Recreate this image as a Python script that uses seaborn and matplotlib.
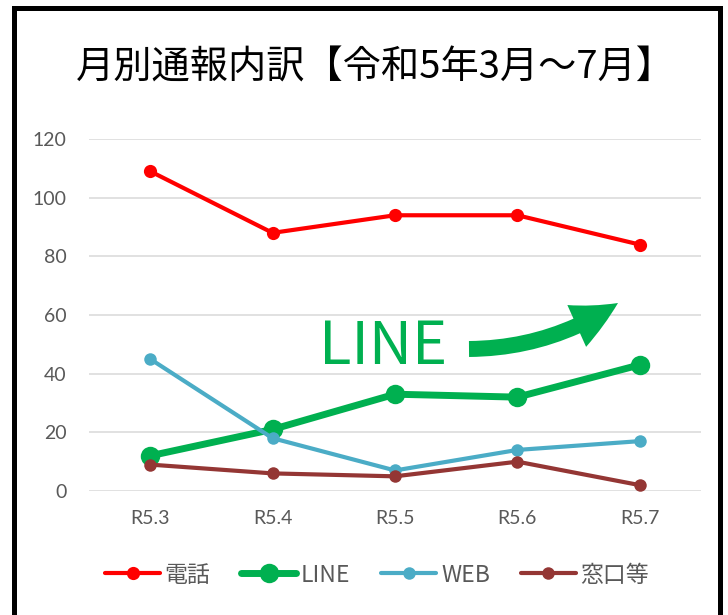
import matplotlib
matplotlib.use("Agg")
import matplotlib.pyplot as plt
from matplotlib.patches import FancyArrowPatch, Rectangle
import pandas as pd
import seaborn as sns

# ── data ──────────────────────────────────────────────────────────────────────
months = ["R5.3", "R5.4", "R5.5", "R5.6", "R5.7"]
phone = [109, 88, 94, 94, 84]
line_app = [12, 21, 33, 32, 43]
web = [45, 18, 7, 14, 17]
counter = [9, 6, 5, 10, 2]

series_names = ["電話", "LINE", "WEB", "窓口等"]
series_values = [phone, line_app, web, counter]
y_ticks = [0, 20, 40, 60, 80, 100, 120]

TITLE = "月別通報内訳【令和5年3月～7月】"

# ── style ─────────────────────────────────────────────────────────────────────
sns.set_style("white")
plt.rcParams["font.family"] = ["Lato", "Noto Sans CJK JP", "DejaVu Sans"]
JP = ["Noto Sans CJK JP", "DejaVu Sans"]
GRAY = "#595959"

styles = {
    "電話": dict(color="#FF0000", lw=3.0, ms=9.5),
    "LINE": dict(color="#00B050", lw=5.0, ms=14),
    "WEB": dict(color="#4BACC6", lw=3.0, ms=9),
    "窓口等": dict(color="#943634", lw=3.0, ms=9),
}

df = pd.DataFrame(
    [
        {"month": m, "series": name, "count": v}
        for name, vals in zip(series_names, series_values)
        for m, v in zip(months, vals)
    ]
)

W, H = 728, 615
fig = plt.figure(figsize=(W / 100, H / 100), dpi=100)
ax = fig.add_axes([89 / W, 1 - 491 / H, (701 - 89) / W, (491 - 139) / H])

for name in series_names:
    st = styles[name]
    sns.lineplot(
        data=df[df["series"] == name],
        x="month",
        y="count",
        color=st["color"],
        linewidth=st["lw"],
        marker="o",
        markersize=st["ms"],
        markeredgewidth=0,
        label=name,
        ax=ax,
        zorder=3,
    )

ax.set_xlim(-0.5, len(months) - 0.5)
ax.set_ylim(0, 120)
ax.set_yticks(y_ticks)
ax.set_xlabel("")
ax.set_ylabel("")
ax.yaxis.grid(True, color="#D9D9D9", linewidth=1.1, zorder=0)
ax.set_axisbelow(True)
for sp in ax.spines.values():
    sp.set_visible(False)
ax.tick_params(axis="y", length=0, pad=16, labelsize=14, labelcolor=GRAY)
ax.tick_params(axis="x", length=0, pad=14, labelsize=14, labelcolor=GRAY)

# legend below the plot
handles, labels = ax.get_legend_handles_labels()
ax.get_legend().remove()
fig.legend(
    handles,
    labels,
    loc="center",
    bbox_to_anchor=(377 / W, 1 - 575 / H),
    ncol=4,
    frameon=False,
    handlelength=2.4,
    handletextpad=0.2,
    columnspacing=1.35,
    prop={"family": JP, "size": 16.5},
    labelcolor=GRAY,
)

# title
fig.text(375 / W, 1 - 68 / H, TITLE, ha="center", va="center",
         fontsize=27.5, family=JP, color="black")

# "LINE" callout with curved arrow
fig.text(383 / W, 1 - 347 / H, "LINE", ha="center", va="center",
         fontsize=43, family=JP, color="#00B050")
arrow = FancyArrowPatch(
    (469 / W, 1 - 349 / H),
    (618 / W, 1 - 303 / H),
    transform=fig.transFigure,
    connectionstyle="arc3,rad=0.15",
    arrowstyle="simple,head_length=34,head_width=33,tail_width=11.5",
    mutation_scale=1,
    shrinkA=0,
    shrinkB=0,
    color="#00B050",
    lw=0,
)
fig.patches.append(arrow)

# black frame around the chart
frame = Rectangle((13.5 / W, -0.1), (719.5 - 13.5) / W, 1.1 - 7.5 / H,
                  transform=fig.transFigure, fill=False,
                  edgecolor="black", linewidth=3.6)
fig.patches.append(frame)

fig.savefig("out.png", dpi=100)
